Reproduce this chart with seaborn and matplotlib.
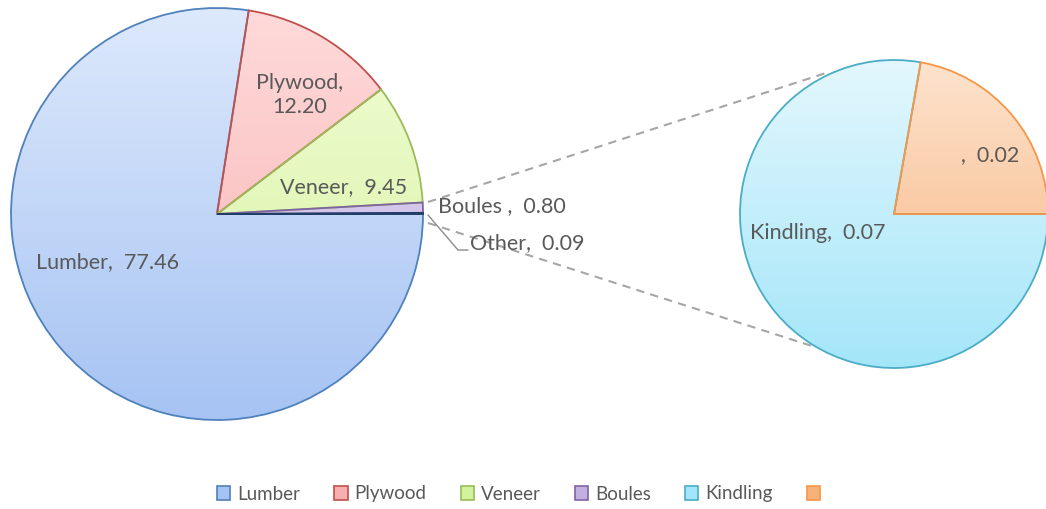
import numpy as np
import pandas as pd
import matplotlib
matplotlib.use("Agg")
import matplotlib.pyplot as plt
from matplotlib.patches import Patch
from matplotlib.colors import to_rgb
import seaborn as sns

# main pie (Other = Kindling + blank slice of the second pie)
main_labels = ["Lumber", "Plywood", "Veneer", "Boules", "Other"]
main_values = [77.46, 12.20, 9.45, 0.80, 0.09]
# second pie
sub_labels = ["Kindling", ""]
sub_values = [0.07, 0.02]

edge_cols = {"Lumber": "#4F81BD", "Plywood": "#C0504D", "Veneer": "#9BBB59",
             "Boules": "#8064A2", "Other": "#1F3D66", "Kindling": "#4BACC6", "": "#F79646"}
grad_top = {"Lumber": "#DDE9FC", "Plywood": "#FFDADA", "Veneer": "#F2FDD6",
            "Boules": "#E6DCF4", "Other": "#2C4D75", "Kindling": "#E3F7FD", "": "#FDE3CE"}
grad_bot = {"Lumber": "#A6C3F3", "Plywood": "#F7B0B0", "Veneer": "#D3F29E",
            "Boules": "#C2B0E0", "Other": "#2C4D75", "Kindling": "#A4E6F9", "": "#F7B27A"}

df_main = pd.DataFrame({"part": main_labels, "share": main_values})
df_sub = pd.DataFrame({"part": sub_labels, "share": sub_values})

sns.set_theme(style="white")
plt.rcParams["font.family"] = ["Lato", "DejaVu Sans"]
txt = "#595959"

W, H = 1046, 509
fig = plt.figure(figsize=(W / 100, H / 100), dpi=100)
ax = fig.add_axes([0, 0, 1, 1])


def Y(py):
    return H - py


def gradient_pie(df, center, radius):
    wedges, _ = ax.pie(df["share"], center=center, radius=radius, startangle=0,
                       counterclock=False, normalize=True,
                       wedgeprops=dict(linewidth=1.3))
    for w, name in zip(wedges, df["part"]):
        w.set_edgecolor(edge_cols[name])
        w.set_facecolor("none")
        w.set_zorder(3)
        top = np.array(to_rgb(grad_top[name]))
        bot = np.array(to_rgb(grad_bot[name]))
        t = np.linspace(0, 1, 256)[:, None]
        img = (top * (1 - t) + bot * t)[:, None, :]
        im = ax.imshow(img, extent=(center[0] - radius, center[0] + radius,
                                    center[1] - radius, center[1] + radius),
                       aspect="auto", origin="upper", zorder=2)
        im.set_clip_path(w)
    return wedges


main_c, main_r = (217, Y(214)), 206
sub_c, sub_r = (894, Y(214)), 154
w_main = gradient_pie(df_main, main_c, main_r)
w_sub = gradient_pie(df_sub, sub_c, sub_r)

# connector lines between the two pies
ax.plot([428, 826], [Y(202), Y(73)], ls=(0, (4, 3)), color="#A6A6A6", lw=1.5, zorder=1)
ax.plot([428, 812], [Y(223), Y(346)], ls=(0, (4, 3)), color="#A6A6A6", lw=1.5, zorder=1)

fs = 15.5
ax.text(300, Y(95), f"{main_labels[1]},\n{main_values[1]:.2f}", ha="center", va="center",
        fontsize=fs, color=txt, linespacing=1.3, zorder=5)
ax.text(344, Y(187), f"{main_labels[2]},  {main_values[2]:.2f}", ha="center", va="center",
        fontsize=fs, color=txt, zorder=5)
ax.text(108, Y(262), f"{main_labels[0]},  {main_values[0]:.2f}", ha="center", va="center",
        fontsize=fs, color=txt, zorder=5)
ax.text(438, Y(206), f"{main_labels[3]} ,  {main_values[3]:.2f}", ha="left", va="center",
        fontsize=fs, color=txt, zorder=5)
ax.text(470, Y(243), f"{main_labels[4]},  {main_values[4]:.2f}", ha="left", va="center",
        fontsize=fs, color=txt, zorder=5)
ax.plot([428, 458, 468], [Y(215), Y(250), Y(250)], color="#8C8C8C", lw=1, zorder=4)
ax.text(818, Y(233), f"{sub_labels[0]},  {sub_values[0]:.2f}", ha="center", va="center",
        fontsize=fs, color=txt, zorder=5)
ax.text(990, Y(155), f"{sub_labels[1]},  {sub_values[1]:.2f}", ha="center", va="center",
        fontsize=fs, color=txt, zorder=5)

# legend
leg_names = main_labels[:4] + sub_labels
handles = [Patch(facecolor=grad_bot[n], edgecolor=edge_cols[n], linewidth=1.2) for n in leg_names]
ax.legend(handles, leg_names, loc="center", bbox_to_anchor=(522 / W, (H - 494) / H),
          bbox_transform=fig.transFigure, ncol=6, frameon=False, fontsize=13.5,
          handlelength=0.7, handleheight=0.7, handletextpad=0.35, columnspacing=1.85,
          labelcolor=txt)

ax.set_xlim(0, W)
ax.set_ylim(0, H)
ax.set_aspect("auto")
ax.axis("off")
fig.savefig("out.png", dpi=100)
